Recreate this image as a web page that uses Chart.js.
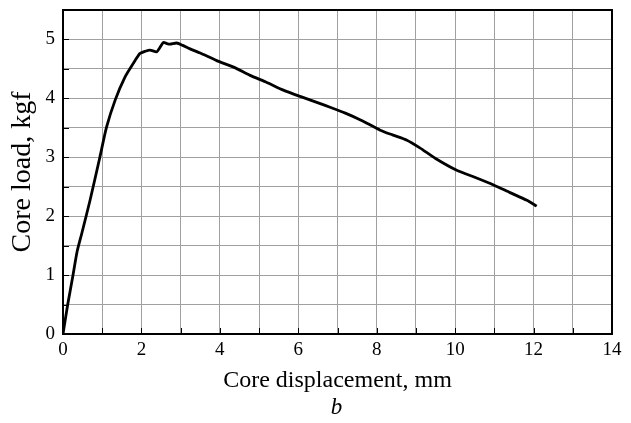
<!DOCTYPE html>
<html>
<head>
<meta charset="utf-8">
<script src="https://cdn.jsdelivr.net/npm/chart.js@4"></script>
<style>
  html, body { margin: 0; padding: 0; background: #fff; }
  #wrap { width: 631px; height: 423px; }
</style>
</head>
<body>
<div id="wrap"><canvas id="loadChart" width="631" height="423"></canvas></div>
<script>
// core displacement (mm) and core load (kgf)
const displacement = [0, 0.12, 0.25, 0.36, 0.48, 0.69, 0.94, 1.11, 1.33, 1.58, 1.79, 1.96, 2.1, 2.22, 2.39, 2.47, 2.56, 2.65, 2.73, 2.9, 3.05, 3.24, 3.5, 3.92, 4.35, 4.77, 5.2, 5.62, 6.1, 6.56, 6.81, 7.2, 7.6, 8.09, 8.4, 8.77, 9.1, 9.5, 10.04, 10.5, 10.98, 11.4, 11.83, 12.08];
const coreLoad     = [0, 0.5, 0.98, 1.4, 1.71, 2.27, 3.0, 3.51, 3.97, 4.36, 4.59, 4.76, 4.8, 4.82, 4.79, 4.86, 4.95, 4.93, 4.92, 4.94, 4.9, 4.84, 4.77, 4.64, 4.53, 4.39, 4.27, 4.14, 4.02, 3.91, 3.85, 3.75, 3.63, 3.46, 3.38, 3.29, 3.16, 2.98, 2.78, 2.66, 2.53, 2.4, 2.27, 2.17];

const xTickLabels = ['0', '2', '4', '6', '8', '10', '12', '14'];
const yTickLabels = ['0', '1', '2', '3', '4', '5'];

const serif = "'Liberation Serif', 'DejaVu Serif', serif";

// frame, inward tick marks and the panel letter
const framePlugin = {
  id: 'frame',
  afterDraw(chart) {
    const { ctx, chartArea: a, scales } = chart;
    ctx.save();
    ctx.strokeStyle = '#000';
    ctx.lineWidth = 1;
    scales.x.ticks.forEach(t => {
      const px = Math.round(scales.x.getPixelForValue(t.value)) + 0.5;
      ctx.beginPath(); ctx.moveTo(px, a.bottom); ctx.lineTo(px, a.bottom - 6); ctx.stroke();
    });
    scales.y.ticks.forEach(t => {
      const py = Math.round(scales.y.getPixelForValue(t.value)) + 0.5;
      ctx.beginPath(); ctx.moveTo(a.left, py); ctx.lineTo(a.left + 6, py); ctx.stroke();
    });
    ctx.lineWidth = 2;
    ctx.strokeRect(a.left, a.top, a.right - a.left, a.bottom - a.top);
    ctx.fillStyle = '#000';
    ctx.font = "italic 23px " + serif;
    ctx.textAlign = 'center';
    ctx.textBaseline = 'middle';
    ctx.fillText('b', (a.left + a.right) / 2 - 1, 408);
    ctx.restore();
  }
};

new Chart(document.getElementById('loadChart'), {
  type: 'scatter',
  data: {
    datasets: [{
      data: displacement.map((x, i) => ({ x: x, y: coreLoad[i] })),
      showLine: true,
      borderColor: '#000',
      borderWidth: 2.8,
      pointRadius: 0,
      tension: 0.2,
      fill: false
    }]
  },
  options: {
    responsive: false,
    animation: false,
    layout: { padding: { top: 10, right: 19, left: 6, bottom: 27.6 } },
    plugins: { legend: { display: false }, tooltip: { enabled: false } },
    scales: {
      x: {
        type: 'linear',
        min: 0, max: 14,
        ticks: {
          stepSize: 1,
          color: '#000',
          font: { family: serif, size: 19 },
          maxRotation: 0,
          padding: 5,
          callback: v => (v % 2 === 0 ? xTickLabels[v / 2] : '')
        },
        grid: { color: '#a0a0a0', lineWidth: 1, drawTicks: false },
        border: { display: false },
        title: {
          display: true,
          text: 'Core displacement, mm',
          color: '#000',
          font: { family: serif, size: 24 },
          padding: { top: 0, bottom: 0 }
        },
        afterFit: s => { s.height = 61.4; s.paddingLeft = 0; s.paddingRight = 0; }
      },
      y: {
        min: 0, max: 5.5,
        ticks: {
          stepSize: 0.5,
          color: '#000',
          font: { family: serif, size: 19 },
          padding: 8,
          callback: v => (Number.isInteger(v) ? yTickLabels[v] : '')
        },
        grid: { color: '#a0a0a0', lineWidth: 1, drawTicks: false },
        border: { display: false },
        title: {
          display: true,
          text: 'Core load, kgf',
          color: '#000',
          font: { family: serif, size: 28 },
          padding: { top: 0, bottom: 0 }
        },
        afterFit: s => { s.width = 57; s.paddingTop = 0; s.paddingBottom = 0; }
      }
    }
  },
  plugins: [framePlugin]
});
</script>
</body>
</html>
